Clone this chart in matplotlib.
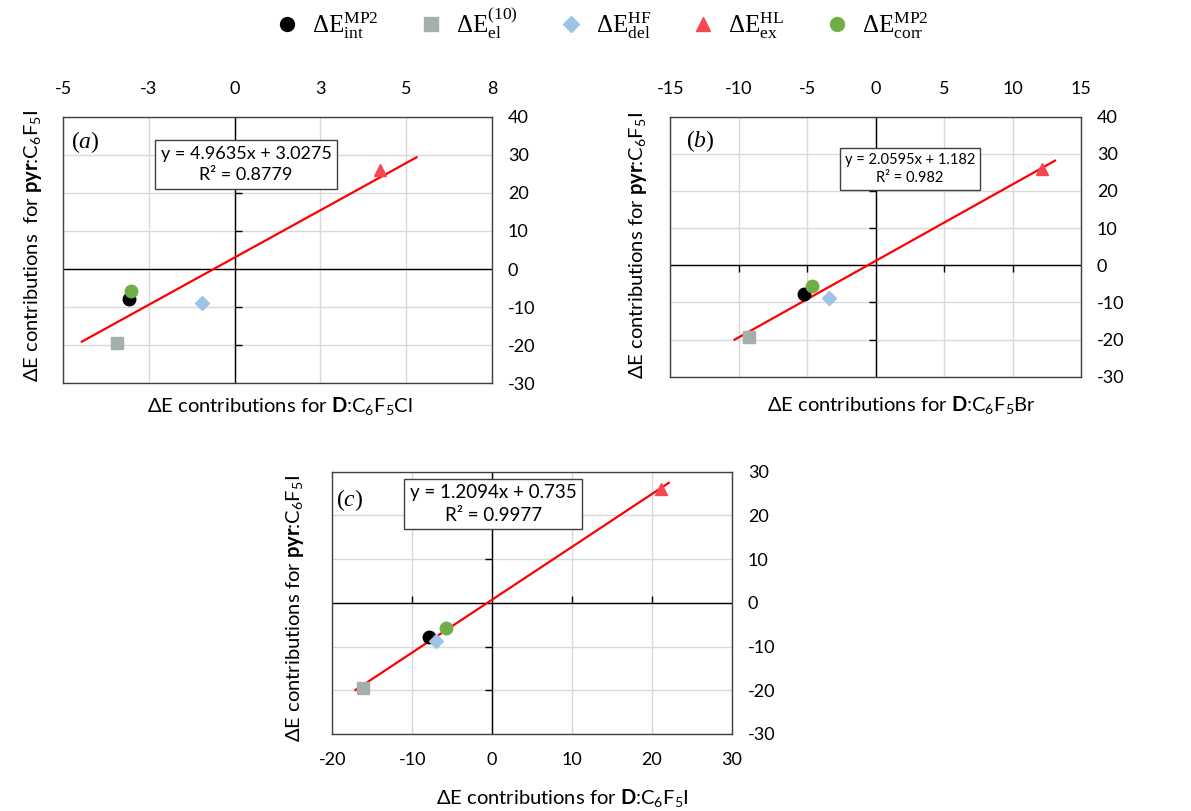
import numpy as np
import matplotlib
import matplotlib.pyplot as plt
from matplotlib.lines import Line2D
from matplotlib.markers import TICKLEFT, TICKRIGHT, TICKUP, TICKDOWN

plt.rcParams['font.family'] = ['Lato', 'DejaVu Sans']
plt.rcParams['mathtext.fontset'] = 'custom'
plt.rcParams['mathtext.rm'] = 'Liberation Serif'
plt.rcParams['mathtext.it'] = 'Liberation Serif:italic'
plt.rcParams['mathtext.bf'] = 'Lato:bold'
plt.rcParams['mathtext.sf'] = 'Lato'
plt.rcParams['axes.unicode_minus'] = False

# energy terms, same order in every array below
terms = ['int', 'el', 'del', 'ex', 'corr']
legend_labels = [r'$\mathrm{\Delta E}_{\mathrm{int}}^{\mathrm{MP2}}$',
                 r'$\mathrm{\Delta E}_{\mathrm{el}}^{\mathrm{(10)}}$',
                 r'$\mathrm{\Delta E}_{\mathrm{del}}^{\mathrm{HF}}$',
                 r'$\mathrm{\Delta E}_{\mathrm{ex}}^{\mathrm{HL}}$',
                 r'$\mathrm{\Delta E}_{\mathrm{corr}}^{\mathrm{MP2}}$']
markers = ['o', 's', 'D', '^', 'o']
sizes = [9, 9, 7.5, 9, 9]
colors = ['#000000', '#A5AFAB', '#9DC3E6', '#F5474F', '#70AD47']

# pyr:C6F5I contributions (y in all panels)
e_pyr = [-7.8, -19.4, -8.8, 26.0, -5.7]
# D:C6F5Cl, D:C6F5Br, D:C6F5I contributions (x of panels a, b, c)
e_cl = [-3.09, -3.43, -0.95, 4.24, -3.02]
e_br = [-5.2, -9.27, -3.39, 12.15, -4.66]
e_i = [-7.92, -16.17, -7.04, 21.08, -5.83]

# linear trend lines: slope, intercept, R^2, x extent
fit_a = (4.9635, 3.0275, 0.8779)
fit_b = (2.0595, 1.182, 0.982)
fit_c = (1.2094, 0.735, 0.9977)
span_a = [-4.45, 5.3]
span_b = [-10.3, 13.1]
span_c = [-17.1, 22.1]

xticks_a = [-5, -2.5, 0, 2.5, 5, 7.5]
xticklabels_a = ['-5', '-3', '0', '3', '5', '8']
xticks_b = [-15, -10, -5, 0, 5, 10, 15]
xticks_c = [-20, -10, 0, 10, 20, 30]
yticks_ab = [-30, -20, -10, 0, 10, 20, 30, 40]
yticks_c = [-30, -20, -10, 0, 10, 20, 30]

W, H = 1191, 811
fig = plt.figure(figsize=(W / 100, H / 100), dpi=100)


def px_axes(left, top, right, bottom):
    return fig.add_axes([left / W, 1 - bottom / H, (right - left) / W, (bottom - top) / H])


def panel(ax, xs, xticks, xticklabels, yticks, fit, span, xtick_mark, ytick_mark, labels_top):
    ax.set_xlim(xticks[0], xticks[-1])
    ax.set_ylim(yticks[0], yticks[-1])
    ax.set_xticks(xticks)
    ax.set_xticklabels(xticklabels)
    ax.set_yticks(yticks)
    ax.set_yticklabels([str(v) for v in yticks])
    ax.grid(True, color='#D9D9D9', lw=1)
    ax.set_axisbelow(True)
    for s in ax.spines.values():
        s.set_color('#404040')
        s.set_linewidth(1)
    ax.tick_params(axis='both', length=0, labelsize=13, colors='black')
    ax.tick_params(axis='x', labelbottom=not labels_top, labeltop=labels_top,
                   pad=14.5 if labels_top else 13)
    ax.tick_params(axis='y', labelleft=False, labelright=True, pad=11.5)

    # axes crossing at the origin, with their own short tick marks
    ax.axhline(0, color='black', lw=1, zorder=1.5)
    ax.axvline(0, color='black', lw=1, zorder=1.5)
    xt = [v for v in xticks[1:-1] if v != 0]
    yt = [v for v in yticks[1:-1] if v != 0]
    if xtick_mark is not None:
        ax.plot(xt, np.zeros(len(xt)), ls='none', marker=xtick_mark, ms=5,
                mew=1, color='black', zorder=1.6)
    ax.plot(np.zeros(len(yt)), yt, ls='none', marker=ytick_mark, ms=5,
            mew=1, color='black', zorder=1.6)

    slope, icept, r2 = fit
    fx = np.array(span)
    ax.plot(fx, slope * fx + icept, color='#FF0000', lw=1.6, zorder=2)
    for x, y, m, s, c in zip(xs, e_pyr, markers, sizes, colors):
        ax.plot(x, y, ls='none', marker=m, ms=s, color=c, mec=c, zorder=3)
    return f'y = {slope}x + {icept}\nR² = {r2}'


def eq_box(ax, text, pos, size):
    ax.text(pos[0], pos[1], text, transform=ax.transAxes, ha='center', va='center',
            ma='center', fontsize=size, linespacing=1.4, zorder=5,
            bbox=dict(boxstyle='square,pad=0.3', fc='white', ec='#404040', lw=1))


label_fs = 14.5
pyr_label = r'ΔE contributions for $\mathbf{pyr}$:$\mathsf{C_6F_5I}$'

ax_a = px_axes(63, 116.7, 492, 383.3)
txt = panel(ax_a, e_cl, xticks_a, xticklabels_a, yticks_ab, fit_a, span_a, None, TICKRIGHT, True)
eq_box(ax_a, txt, (0.4266, 0.8207), 13)
ax_a.text(0.051, 0.905, r'$(a)$', transform=ax_a.transAxes, ha='center', va='center', fontsize=17)
ax_a.set_xlabel(r'ΔE contributions for $\mathbf{D}$:$\mathsf{C_6F_5Cl}$', fontsize=label_fs, va='center')
ax_a.xaxis.set_label_coords(0.506, -0.085)
ax_a.set_ylabel(r'ΔE contributions  for $\mathbf{pyr}$:$\mathsf{C_6F_5I}$', fontsize=label_fs, va='center')
ax_a.yaxis.set_label_coords(-0.070, 0.515)

ax_b = px_axes(670.3, 116.7, 1081, 376.7)
txt = panel(ax_b, e_br, xticks_b, [str(v) for v in xticks_b], yticks_ab, fit_b, span_b, TICKDOWN, TICKLEFT, True)
eq_box(ax_b, txt, (0.5836, 0.7988), 10.5)
ax_b.text(0.072, 0.9065, r'$(b)$', transform=ax_b.transAxes, ha='center', va='center', fontsize=17)
ax_b.set_xlabel(r'ΔE contributions for $\mathbf{D}$:$\mathsf{C_6F_5Br}$', fontsize=label_fs, va='center')
ax_b.xaxis.set_label_coords(0.564, -0.109)
ax_b.set_ylabel(pyr_label, fontsize=label_fs, va='center')
ax_b.yaxis.set_label_coords(-0.0786, 0.5065)

ax_c = px_axes(332.3, 471.7, 732, 734)
txt = panel(ax_c, e_i, xticks_c, [str(v) for v in xticks_c], yticks_c, fit_c, span_c, TICKUP, TICKLEFT, False)
eq_box(ax_c, txt, (0.4033, 0.8769), 13.5)
ax_c.text(0.044, 0.892, r'$(c)$', transform=ax_c.transAxes, ha='center', va='center', fontsize=17)
ax_c.set_xlabel(r'ΔE contributions for $\mathbf{D}$:$\mathsf{C_6F_5I}$', fontsize=label_fs, va='center')
ax_c.xaxis.set_label_coords(0.575, -0.244)
ax_c.set_ylabel(pyr_label, fontsize=label_fs, va='center')
ax_c.yaxis.set_label_coords(-0.0933, 0.4766)

handles = [Line2D([], [], ls='none', marker=m, ms=s + 1, color=c)
           for m, s, c in zip(markers, sizes, colors)]
fig.legend(handles, legend_labels, loc='center', bbox_to_anchor=(0.504, 0.972), ncol=5,
           frameon=False, fontsize=18, handletextpad=0.4, columnspacing=1.5,
           handlelength=1.2)

fig.savefig('out.png', dpi=100)
